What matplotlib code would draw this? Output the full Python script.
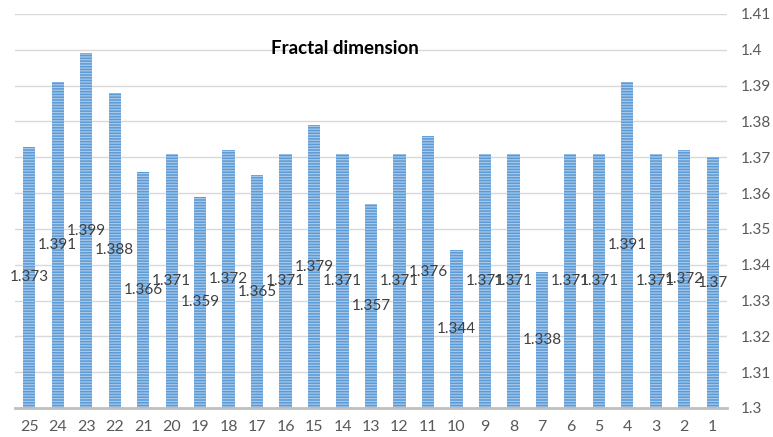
import matplotlib
matplotlib.use('Agg')
import matplotlib.pyplot as plt
import numpy as np

categories = ['25', '24', '23', '22', '21', '20', '19', '18', '17', '16', '15', '14', '13',
              '12', '11', '10', '9', '8', '7', '6', '5', '4', '3', '2', '1']
values = [1.373, 1.391, 1.399, 1.388, 1.366, 1.371, 1.359, 1.372, 1.365, 1.371, 1.379,
          1.371, 1.357, 1.371, 1.376, 1.344, 1.371, 1.371, 1.338, 1.371, 1.371, 1.391,
          1.371, 1.372, 1.37]
labels = ['1.373', '1.391', '1.399', '1.388', '1.366', '1.371', '1.359', '1.372', '1.365',
          '1.371', '1.379', '1.371', '1.357', '1.371', '1.376', '1.344', '1.371', '1.371',
          '1.338', '1.371', '1.371', '1.391', '1.371', '1.372', '1.37']
yticks = [1.3, 1.31, 1.32, 1.33, 1.34, 1.35, 1.36, 1.37, 1.38, 1.39, 1.4, 1.41]
ytick_labels = ['1.3', '1.31', '1.32', '1.33', '1.34', '1.35', '1.36', '1.37', '1.38',
                '1.39', '1.4', '1.41']
ymin = 1.3

plt.rcParams['font.family'] = ['Lato', 'DejaVu Sans']
plt.rcParams['hatch.color'] = '#a8c8ea'
plt.rcParams['hatch.linewidth'] = 0.9

fig = plt.figure(figsize=(7.73, 4.37), dpi=100)
ax = fig.add_axes([0.0194, 0.0664, 0.9211, 0.9016])

x = np.arange(len(categories))
heights = [v - ymin for v in values]
ax.bar(x, heights, bottom=ymin, width=0.43, color='#5b9bd5', hatch='------',
       edgecolor='#a8c8ea', linewidth=0, zorder=2)

# labels in the middle of each bar
for xi, v, lab in zip(x, values, labels):
    ax.text(xi, (ymin + v) / 2, lab, ha='center', va='center', fontsize=11,
            color='#404040', zorder=3)

ax.set_xlim(-0.5, 24.5)
ax.set_ylim(1.3, 1.41)
ax.set_xticks(x)
ax.set_xticklabels(categories, fontsize=11.5, color='#595959')
ax.set_yticks(yticks)
ax.set_yticklabels(ytick_labels, fontsize=11, color='#595959')
ax.yaxis.tick_right()
ax.tick_params(axis='both', length=0)
ax.tick_params(axis='y', pad=10)
ax.tick_params(axis='x', pad=9)
ax.grid(axis='y', color='#d9d9d9', linewidth=1, zorder=0)
ax.set_axisbelow(True)
for s in ['top', 'left', 'right']:
    ax.spines[s].set_visible(False)
ax.spines['bottom'].set_color('#bfbfbf')
ax.spines['bottom'].set_linewidth(2)
ax.spines['bottom'].set_zorder(4)

ax.text(0.463, 0.913, 'Fractal dimension', transform=ax.transAxes, ha='center',
        va='center', fontsize=13.5, fontweight='bold', color='black')

fig.savefig('out.png', dpi=100)
